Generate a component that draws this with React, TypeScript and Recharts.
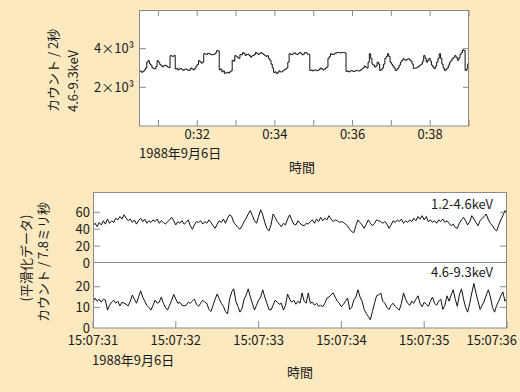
import { LineChart, Line, XAxis, YAxis, CartesianGrid } from 'recharts';

const BG = '#fde9bf';
const FRAME = '#8a8a8a';
const INK = '#111';
const TEXT = '#1a1a1a';
const FONT = "'Noto Sans CJK JP', 'Noto Sans', sans-serif";

// upper plot: 4.6-9.3keV counts per 2 s bin, minutes after 0:00
const topStart = 30.5;
const topStep = 1 / 30;
const topCounts = [
  2870, 2830, 2780, 2820, 2900, 3000, 3300, 3380, 3220, 3150,
  3020, 2980, 2950, 3080, 3380, 3300, 3180, 3120, 3060, 3120,
  3150, 3100, 3050, 3020, 3640, 3620, 3600, 3650, 2950, 2980,
  2900, 2950, 2970, 2920, 2880, 2930, 2950, 2900, 2870, 2900,
  3000, 2950, 2900, 2980, 3100, 3180, 3380, 3320, 3250, 3300,
  3740, 3720, 3700, 3760, 3750, 3700, 3680, 3700, 3720, 3780,
  3900, 3880, 2900, 2950, 2800, 2850, 2720, 2750, 2780, 2740,
  2800, 2850, 3400, 3350, 3640, 3600, 3550, 3500, 3700, 3680,
  3800, 3750, 3650, 3700, 3720, 3650, 3560, 3620, 3650, 3700,
  3800, 3760, 3700, 3740, 3800, 3750, 3700, 3650, 3600, 3640,
  3500, 3400, 3200, 3000, 2770, 2800, 2720, 2760, 2850, 2800,
  2800, 2860, 2900, 2950, 3000, 3300, 3740, 3700, 3700, 3760,
  3780, 3720, 3700, 3750, 3800, 3760, 3680, 3720, 3800, 3780,
  3720, 3700, 2870, 2900, 2850, 2880, 2900, 2860, 2870, 2920,
  3000, 2960, 2900, 2940, 3000, 3050, 3500, 3600, 3740, 3700,
  3700, 3760, 3780, 3800, 3800, 3780, 3790, 3810, 3800, 3780,
  2820, 2850, 2800, 2840, 2870, 2830, 2820, 2860, 2880, 2850,
  2850, 2900, 2950, 3000, 3100, 3050, 3000, 3300, 3740, 3500,
  3200, 3150, 3050, 3100, 3300, 3200, 2870, 2920, 3000, 3200,
  3500, 3600, 3740, 3600, 3300, 3200, 3100, 3000, 2870, 2920,
  3000, 3150, 3300, 3400, 3480, 3420, 3400, 3460, 3480, 3420,
  3350, 3200, 2970, 3000, 3000, 3050, 3100, 3150, 3200, 3350,
  3640, 3500, 3300, 3400, 3500, 3350, 3150, 3050, 2970, 3100,
  3300, 3500, 3740, 3500, 3200, 3000, 2870, 2920, 3000, 3150,
  3300, 3400, 3500, 3550, 3640, 3550, 3400, 3500, 3700, 3800,
  3940, 3900, 2870, 2950, 3230,
];
const topMinuteTicks = [31, 32, 33, 34, 35, 36, 37, 38, 39];
const topCountTicks = [2000, 4000];

// lower plots: smoothed counts per 7.8ms, seconds after 15:07:00
const fastStart = 31;
const fastStep = 0.025;
const lowBand = [
  44, 47, 43, 48, 45, 50, 46, 52, 47, 50, 48, 53, 51, 55, 52, 57, 53, 50, 52, 48,
  51, 46, 50, 53, 49, 52, 47, 50, 48, 51, 49, 52, 47, 50, 48, 46, 49, 51, 54, 50,
  45, 49, 47, 50, 46, 48, 51, 44, 40, 45, 49, 48, 50, 46, 49, 47, 51, 48, 44, 41,
  46, 50, 48, 52, 47, 53, 57, 55, 48, 45, 42, 40, 44, 49, 53, 58, 62, 56, 50, 47,
  55, 63, 57, 48, 41, 38, 45, 58, 54, 49, 46, 43, 47, 45, 52, 57, 51, 46, 45, 50,
  47, 45, 44, 47, 46, 49, 51, 47, 52, 49, 54, 50, 53, 51, 56, 52, 49, 51, 50, 48,
  49, 48, 46, 44, 40, 37, 36, 44, 51, 48, 45, 41, 46, 51, 47, 44, 47, 51, 50, 49,
  47, 49, 46, 41, 45, 50, 48, 51, 49, 52, 47, 50, 48, 51, 49, 53, 50, 55, 52, 56,
  51, 55, 49, 51, 48, 50, 47, 51, 49, 52, 48, 50, 47, 44, 46, 42, 41, 47, 51, 54,
  50, 45, 49, 56, 52, 48, 44, 50, 53, 55, 58, 51, 47, 44, 40, 38, 45, 51, 56, 62,
  58,
];
const highBand = [
  12.7, 14.5, 13, 14, 12.5, 14, 13.5, 8.7, 11, 12.5,
  13.5, 12, 13, 10.7, 12.5, 12, 11.5, 10.7, 13, 16,
  14, 12, 15, 18, 15, 13, 11, 10, 8.7, 11,
  13.5, 12, 12.5, 15, 12, 10, 8.7, 11, 13.5, 16.3,
  14, 12, 12.5, 11, 10.7, 11, 12.5, 12, 13, 14,
  11.5, 10.5, 12, 13.5, 12.5, 12, 9, 8, 11, 14,
  16.5, 14, 12, 10.5, 8, 6.8, 14, 17.5, 19, 13,
  10.5, 7.7, 9.5, 14, 16, 19, 15, 12, 8.7, 11,
  13.5, 15, 18.5, 15, 12, 9, 8.7, 11, 13.5, 12.5,
  11.5, 12, 8.7, 11, 16.5, 14, 12.5, 13.5, 11.5, 13,
  12, 17, 13, 12, 17, 12, 12.5, 11, 12, 10.5,
  11, 10.3, 12, 14.5, 15, 16, 17, 15, 13, 12,
  10.3, 11.5, 13, 14.5, 9, 10, 13.5, 15, 18.5, 15,
  13, 9, 7, 5.6, 4, 8, 12, 15.6, 16, 17,
  13, 12, 10, 9, 11, 12, 10.5, 9.5, 8.7, 12,
  17, 14, 12, 11, 13, 12, 14, 15.6, 12, 10.3,
  12.5, 11.5, 10.5, 13, 15, 12, 11, 13, 14, 9,
  11, 15.6, 13, 16, 18.5, 14, 10.5, 16, 19, 14,
  10, 7.7, 12, 17, 21.6, 17, 13, 9, 11, 13,
  16, 18.5, 15, 10, 7.7, 11, 13, 15.5, 17.5, 13,
  14.5,
];
const secondTicks = [31, 32, 33, 34, 35, 36];
const lowBandTicks = [0, 20, 40, 60];
const highBandTicks = [0, 10, 20];

const topData = topCounts.map((v, i) => ({ t: topStart + i * topStep, v }));
const lowData = lowBand.map((v, i) => ({ t: fastStart + i * fastStep, v }));
const highData = highBand.map((v, i) => ({ t: fastStart + i * fastStep, v }));

const txt = { fontFamily: FONT, fontSize: 13, fill: TEXT } as const;

// top chart plot box (chart-local): top 10, right 469
const MinuteTick = ({ x, y, payload }: any) => (
  <g>
    <line x1={x} x2={x} y1={y} y2={y - 6} stroke={FRAME} />
    <line x1={x} x2={x} y1={10} y2={16} stroke={FRAME} />
    {payload.value % 2 === 0 && (
      <text x={x} y={y + 13} textAnchor="middle" {...txt}>{`0:${payload.value}`}</text>
    )}
  </g>
);

const CountTick = ({ x, y, payload }: any) => (
  <g>
    <line x1={x} x2={x + 7} y1={y} y2={y} stroke={FRAME} />
    <line x1={469} x2={463} y1={y} y2={y} stroke={FRAME} />
    <text x={x - 5} y={y} dy="0.35em" textAnchor="end" {...txt}>{`${payload.value / 1000}×10³`}</text>
  </g>
);

// lower charts: plot right 507, band chart top 12
const BandSecondTick = ({ x, y }: any) => (
  <g>
    <line x1={x} x2={x} y1={y} y2={y - 7} stroke={FRAME} />
    <line x1={x} x2={x} y1={12} y2={19} stroke={FRAME} />
  </g>
);

const SecondTick = ({ x, y, payload, index }: any) => {
  const last = index === secondTicks.length - 1;
  return (
    <g>
      <line x1={x} x2={x} y1={y} y2={y - 7} stroke={FRAME} />
      <text x={last ? x + 10 : x} y={y + 17} textAnchor={last ? 'end' : 'middle'} {...txt}>
        {`15:07:${payload.value}`}
      </text>
    </g>
  );
};

const makeBandTick = (rightTicks: number[]) => ({ x, y, payload }: any) => (
  <g>
    {payload.value !== 0 && <line x1={x} x2={x + 7} y1={y} y2={y} stroke={FRAME} />}
    {rightTicks.includes(payload.value) && <line x1={507} x2={500} y1={y} y2={y} stroke={FRAME} />}
    <text x={x - 3} y={y} dy="0.35em" textAnchor="end" {...txt}>{payload.value}</text>
  </g>
);
const LowBandTick = makeBandTick([20, 60]);
const HighBandTick = makeBandTick([10, 20]);

export default function App() {
  return (
    <div style={{ position: 'fixed', left: 0, top: 0, width: 520, height: 392, background: BG, overflow: 'hidden' }}>
      <div style={{ position: 'absolute', left: 0, top: 0 }}>
        <LineChart width={520} height={160} data={topData} margin={{ top: 10, right: 51, bottom: 4, left: 79 }}>
          <CartesianGrid horizontal={false} vertical={false} fill="#fff" />
          <XAxis type="number" dataKey="t" domain={[30.5, 39]} allowDataOverflow ticks={topMinuteTicks}
            height={30} axisLine={false} tickLine={false} tickSize={0} tickMargin={0} tick={MinuteTick} interval={0} />
          <YAxis type="number" domain={[0, 6000]} allowDataOverflow ticks={topCountTicks}
            width={60} axisLine={false} tickLine={false} tickSize={0} tickMargin={0} tick={CountTick} interval={0} />
          <Line type="stepAfter" dataKey="v" stroke={INK} strokeWidth={1} dot={false} isAnimationActive={false} />
        </LineChart>
      </div>

      <div style={{ position: 'absolute', left: 0, top: 180 }}>
        <LineChart width={520} height={95} data={lowData} margin={{ top: 12, right: 13, bottom: 12, left: 43 }}>
          <CartesianGrid horizontal={false} vertical={false} fill="#fff" />
          <XAxis type="number" dataKey="t" domain={[31, 36]} allowDataOverflow ticks={secondTicks}
            height={0} axisLine={false} tickLine={false} tickSize={0} tickMargin={0} tick={BandSecondTick} interval={0} />
          <YAxis type="number" domain={[0, 84]} allowDataOverflow ticks={lowBandTicks}
            width={50} axisLine={false} tickLine={false} tickSize={0} tickMargin={0} tick={LowBandTick} interval={0} />
          <Line type="linear" dataKey="v" stroke={INK} strokeWidth={1} dot={false} isAnimationActive={false} />
        </LineChart>
      </div>

      <div style={{ position: 'absolute', left: 0, top: 263 }}>
        <LineChart width={520} height={120} data={highData} margin={{ top: 0, right: 13, bottom: 15, left: 43 }}>
          <CartesianGrid horizontal={false} vertical={false} fill="#fff" />
          <XAxis type="number" dataKey="t" domain={[31, 36]} allowDataOverflow ticks={secondTicks}
            height={40} axisLine={false} tickLine={false} tickSize={0} tickMargin={0} tick={SecondTick} interval={0} />
          <YAxis type="number" domain={[0, 31.5]} allowDataOverflow ticks={highBandTicks}
            width={50} axisLine={false} tickLine={false} tickSize={0} tickMargin={0} tick={HighBandTick} interval={0} />
          <Line type="linear" dataKey="v" stroke={INK} strokeWidth={1} dot={false} isAnimationActive={false} />
        </LineChart>
      </div>

      <svg width={520} height={392} style={{ position: 'absolute', left: 0, top: 0, pointerEvents: 'none' }}>
        <rect x={139.5} y={10.5} width={329} height={115.5} fill="none" stroke={FRAME} />
        <rect x={93.5} y={192.5} width={413} height={135.5} fill="none" stroke={FRAME} />
        <line x1={93} x2={507} y1={262.5} y2={262.5} stroke={FRAME} />

        <text transform="translate(52,112) rotate(-90)" dominantBaseline="central" {...txt}>カウント / 2秒</text>
        <text transform="translate(72,112) rotate(-90)" dominantBaseline="central" {...txt}>4.6-9.3keV</text>
        <text x={139} y={158} {...txt}>1988年9月6日</text>
        <text x={302} y={172} textAnchor="middle" {...txt}>時間</text>

        <text transform="translate(25,258) rotate(-90)" dominantBaseline="central" textAnchor="middle" {...txt}>(平滑化データ)</text>
        <text transform="translate(42,262) rotate(-90)" dominantBaseline="central" textAnchor="middle" {...txt}>カウント / 7.8ミリ秒</text>
        <text x={493} y={209} textAnchor="end" {...txt}>1.2-4.6keV</text>
        <text x={493} y={277} textAnchor="end" {...txt}>4.6-9.3keV</text>
        <text x={92} y={365} {...txt}>1988年9月6日</text>
        <text x={300} y={377} textAnchor="middle" {...txt}>時間</text>
      </svg>
    </div>
  );
}
